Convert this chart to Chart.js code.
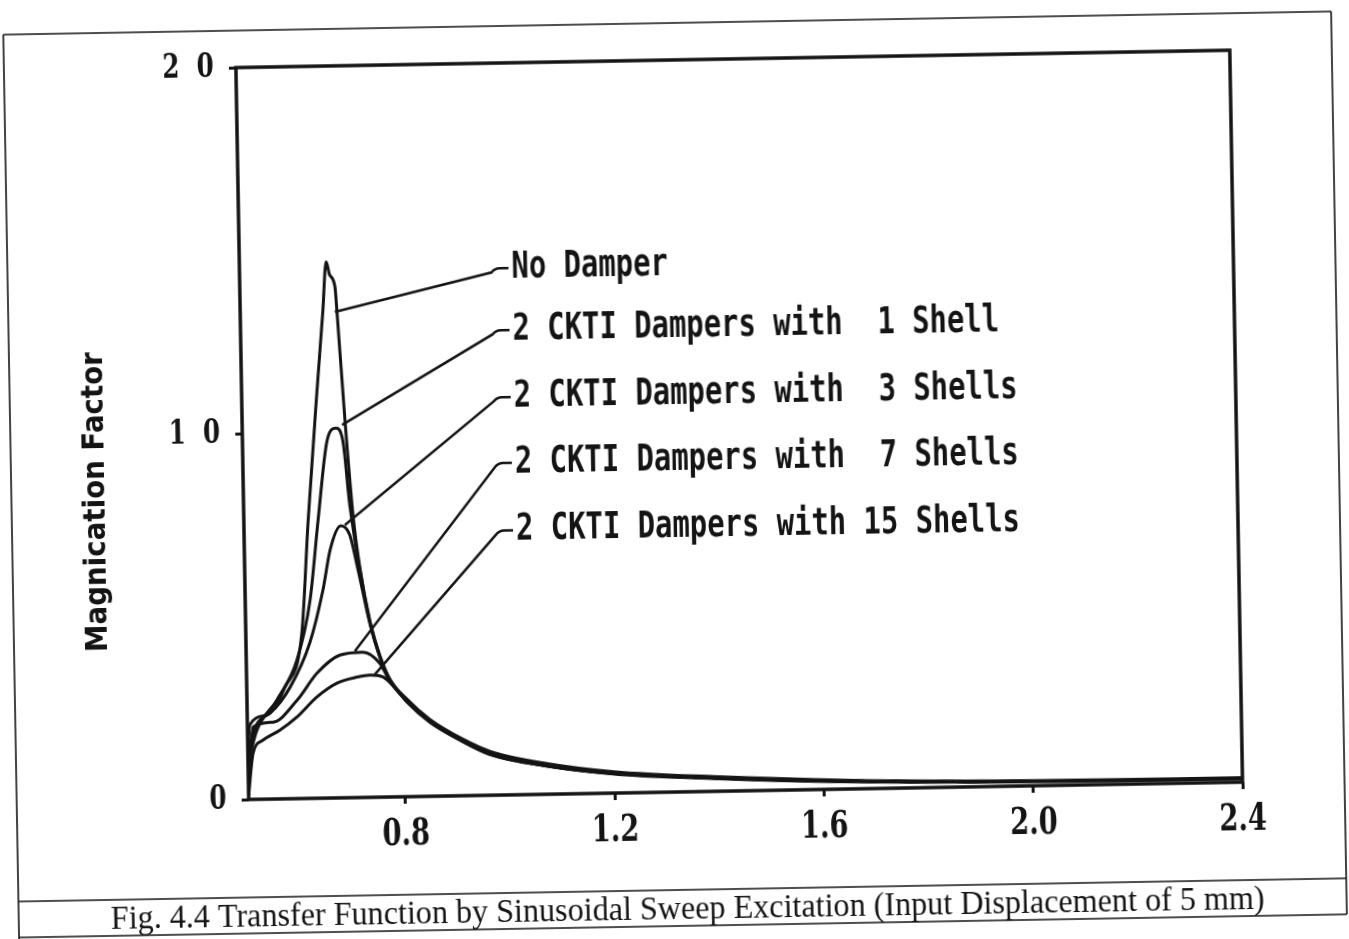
<!DOCTYPE html>
<html>
<head>
<meta charset="utf-8">
<script src="https://cdn.jsdelivr.net/npm/chart.js@4.4.0/dist/chart.umd.min.js"></script>
<style>
  html, body { margin: 0; background: #fff; overflow: hidden; }
  #wrap { position: relative; width: 1349px; height: 939px; transform: rotate(-1deg); transform-origin: 674px 470px; }
  canvas { position: absolute; left: 0; top: 0; }
</style>
</head>
<body>
<div id="wrap"><canvas id="chart" width="1349" height="939"></canvas></div>
<script>
// axis ticks
const xTicks = [0.8, 1.2, 1.6, 2.0, 2.4];
const xTickLabels = ['0.8', '1.2', '1.6', '2.0', '2.4'];
const yTicks = [0, 10, 20];
const yTickLabels = ['0', '1 0', '2 0'];

// series (frequency ratio -> magnification factor)
const seriesNames = [
  'No Damper',
  '2 CKTI Dampers with  1 Shell',
  '2 CKTI Dampers with  3 Shells',
  '2 CKTI Dampers with  7 Shells',
  '2 CKTI Dampers with 15 Shells'
];
const noDamperX = [0.5, 0.505, 0.538, 0.573, 0.607, 0.623, 0.644, 0.658, 0.666, 0.672, 0.682, 0.685, 0.697, 0.709, 0.72, 0.738, 0.756, 0.774, 0.806, 0.849, 0.912, 0.963, 1.07, 1.2, 1.39, 1.645, 2.0, 2.4];
const noDamperY = [1.3, 2.05, 2.3, 3.05, 4.5, 7.6, 11.1, 13.3, 14.65, 14.3, 13.96, 13.28, 10.24, 7.7, 6.3, 4.8, 3.85, 3.22, 2.66, 2.1, 1.54, 1.2, 0.84, 0.58, 0.4, 0.24, 0.14, 0.12];
const shell1X = [0.5, 0.518, 0.557, 0.597, 0.624, 0.642, 0.662, 0.679, 0.692, 0.703, 0.72, 0.738, 0.756, 0.774, 0.806, 0.849, 0.912, 0.963, 1.07, 1.2, 1.39, 1.645, 2.0, 2.4];
const shell1Y = [1.0, 1.89, 2.7, 3.79, 5.42, 7.6, 9.78, 10.1, 9.75, 8.0, 6.25, 4.75, 3.82, 3.2, 2.63, 2.07, 1.5, 1.15, 0.8, 0.55, 0.38, 0.22, 0.13, 0.11];
const shell3X = [0.5, 0.505, 0.544, 0.583, 0.622, 0.649, 0.664, 0.685, 0.702, 0.717, 0.738, 0.756, 0.774, 0.806, 0.849, 0.912, 0.963, 1.07, 1.2, 1.39, 1.645, 2.0, 2.4];
const shell3Y = [0.6, 1.5, 2.35, 3.05, 4.25, 5.69, 6.78, 7.43, 7.18, 6.2, 4.72, 3.8, 3.18, 2.62, 2.05, 1.5, 1.14, 0.78, 0.54, 0.37, 0.22, 0.12, 0.1];
const shell7X = [0.5, 0.511, 0.549, 0.596, 0.635, 0.679, 0.723, 0.755, 0.774, 0.806, 0.849, 0.912, 0.963, 1.07, 1.2, 1.39, 1.645, 2.0, 2.4];
const shell7Y = [0.3, 1.98, 2.1, 2.69, 3.42, 3.9, 3.97, 3.66, 3.16, 2.6, 2.04, 1.48, 1.12, 0.78, 0.53, 0.36, 0.21, 0.12, 0.1];
const shell15X = [0.5, 0.51, 0.529, 0.562, 0.595, 0.634, 0.673, 0.711, 0.736, 0.761, 0.785, 0.806, 0.849, 0.912, 0.963, 1.07, 1.2, 1.39, 1.645, 2.0, 2.4];
const shell15Y = [0.1, 1.26, 1.61, 1.88, 2.23, 2.77, 3.14, 3.29, 3.34, 3.28, 2.95, 2.58, 2.02, 1.47, 1.11, 0.77, 0.52, 0.35, 0.2, 0.11, 0.09];

// where each label sits and where its leader touches the curve (data units)
const labelAtX = [1.02, 1.02, 1.02, 1.02, 1.02];
const labelAtY = [14.39, 12.7, 10.87, 9.07, 7.23];
const leaderToX = [0.681, 0.691, 0.693, 0.708, 0.745];
const leaderToY = [13.28, 10.19, 7.45, 4.0, 3.35];

const yTitle = 'Magnication Factor';
const caption = 'Fig. 4.4 Transfer Function by Sinusoidal Sweep Excitation (Input Displacement of 5 mm)';

const ink = '#141414';
const seriesX = [noDamperX, shell1X, shell3X, shell7X, shell15X];
const seriesY = [noDamperY, shell1Y, shell3Y, shell7Y, shell15Y];

// text squeezed horizontally, the scan's fonts are narrow
function squeezed(ctx, text, px, py, font, sx, align, base) {
  ctx.save();
  ctx.font = font;
  ctx.textAlign = align;
  ctx.textBaseline = base || 'middle';
  ctx.translate(px, py);
  ctx.scale(sx, 1);
  ctx.fillText(text, 0, 0);
  ctx.restore();
}

const paperPlugin = {
  id: 'paper',
  afterDraw(chart) {
    const { ctx, chartArea: a } = chart;
    const x = chart.scales.x, y = chart.scales.y;
    ctx.save();
    ctx.fillStyle = ink;
    ctx.strokeStyle = ink;

    // plot frame
    ctx.lineWidth = 3.5;
    ctx.strokeRect(a.left, a.top, a.right - a.left, a.bottom - a.top);

    // page frame + caption box
    ctx.lineWidth = 1.6;
    ctx.beginPath();
    ctx.moveTo(11, 23); ctx.lineTo(1339, 23);
    ctx.moveTo(11, 23); ctx.lineTo(11, 939);
    ctx.moveTo(1339, 23); ctx.lineTo(1339, 926);
    ctx.moveTo(11, 890); ctx.lineTo(1339, 890);
    ctx.moveTo(11, 926); ctx.lineTo(1339, 926);
    ctx.stroke();

    // tick labels
    ctx.letterSpacing = '6px';
    yTicks.forEach((v, i) => {
      squeezed(ctx, yTickLabels[i], a.left - 18, y.getPixelForValue(v), 'bold 34px "DejaVu Serif"', 0.72, 'right');
    });
    ctx.letterSpacing = '0px';
    xTicks.forEach((v, i) => {
      squeezed(ctx, xTickLabels[i], x.getPixelForValue(v), a.bottom + 38, 'bold 38px "DejaVu Serif"', 0.72, 'center');
    });

    // axis title
    ctx.save();
    ctx.translate(96, 492);
    ctx.rotate(-Math.PI / 2);
    ctx.font = 'bold 30px "DejaVu Sans"';
    const tw = ctx.measureText(yTitle).width;
    squeezed(ctx, yTitle, 0, 0, 'bold 30px "DejaVu Sans"', 300 / tw, 'center');
    ctx.restore();

    // curve labels with leader lines
    ctx.lineWidth = 2.5;
    seriesNames.forEach((name, i) => {
      const lx = x.getPixelForValue(labelAtX[i]);
      const ly = y.getPixelForValue(labelAtY[i]);
      const ex = x.getPixelForValue(leaderToX[i]);
      const ey = y.getPixelForValue(leaderToY[i]);
      ctx.beginPath();
      ctx.moveTo(ex, ey);
      ctx.lineTo(lx - 20, ly + 4);
      ctx.quadraticCurveTo(lx - 17, ly, lx - 12, ly);
      ctx.lineTo(lx - 3, ly);
      ctx.stroke();
      squeezed(ctx, name, lx, ly, 'bold 37px "DejaVu Sans Mono"', 0.78, 'left');
    });

    // caption
    const capFont = '33px "Liberation Serif", "Times New Roman", Tinos, serif';
    ctx.font = capFont;
    const cw = ctx.measureText(caption).width;
    squeezed(ctx, caption, 680, 919, capFont, 1154 / cw, 'center', 'alphabetic');

    ctx.restore();
  }
};

new Chart(document.getElementById('chart'), {
  type: 'line',
  data: {
    datasets: seriesNames.map((name, i) => ({
      label: name,
      data: seriesX[i].map((v, j) => ({ x: v, y: seriesY[i][j] })),
      borderColor: ink,
      borderWidth: 3,
      pointRadius: 0,
      fill: false,
      cubicInterpolationMode: 'monotone'
    }))
  },
  options: {
    responsive: false,
    animation: false,
    devicePixelRatio: 1,
    layout: { padding: { left: 243, right: 112, top: 60, bottom: 147 } },
    plugins: { legend: { display: false }, tooltip: { enabled: false } },
    scales: {
      x: {
        type: 'linear', min: 0.5, max: 2.4,
        afterBuildTicks: s => { s.ticks = xTicks.map(v => ({ value: v })); },
        afterFit: s => { s.height = 0; },
        ticks: { display: false },
        border: { display: false },
        grid: { drawOnChartArea: false, drawTicks: true, tickLength: 7, lineWidth: 3, color: ink }
      },
      y: {
        type: 'linear', min: 0, max: 20,
        afterBuildTicks: s => { s.ticks = yTicks.map(v => ({ value: v })); },
        afterFit: s => { s.width = 0; },
        ticks: { display: false },
        border: { display: false },
        grid: { drawOnChartArea: false, drawTicks: true, tickLength: 7, lineWidth: 3, color: ink }
      }
    }
  },
  plugins: [paperPlugin]
});
</script>
</body>
</html>
